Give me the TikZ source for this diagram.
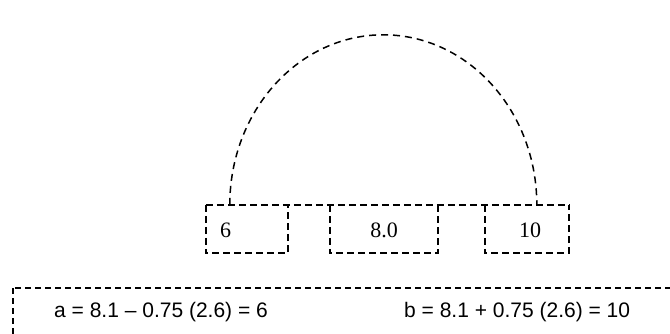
\documentclass[tikz,border=0pt]{standalone}
\usepackage{fontspec}
\setmainfont{Liberation Serif}
\setsansfont{Liberation Sans}
\usetikzlibrary{positioning, calc}

\begin{document}
\begin{tikzpicture}[
  x=1pt, y=-1pt,
  box/.style={rectangle, minimum width=82pt, minimum height=48pt, inner sep=0pt},
  num/.style={font=\fontsize{22}{24}\selectfont, inner sep=0pt},
  eqn/.style={font=\sffamily\fontsize{21}{24}\selectfont, inner sep=0pt},
  edge/.style={line width=1.8pt, dash pattern=on 7pt off 4pt},
  arcline/.style={line width=1.5pt, dash pattern=on 7pt off 5pt},
  frame/.style={line width=1.5pt, dash pattern=on 6pt off 4pt}
]
  \useasboundingbox (0,0) rectangle (670,334);
  \clip (0,0) rectangle (670,334);

  % the three intervals
  \node[box, minimum width=82pt] (b1) at (247,229) {};
  \node[box, minimum width=108pt] (b2) at (384,229) {};
  \node[box, minimum width=84pt] (b3) at (527,229) {};

  \node[num, anchor=base west] (n1) at (220,237) {6};
  \node[num, anchor=base] (n2) at (384,237) {8.0};
  \node[num, anchor=base] (n3) at (530,237) {10};

  \draw[edge] (b1.north west) -- (b3.north east);
  \foreach \b in {b1,b2,b3}{
    \draw[edge] (\b.north west) -- (\b.south west) -- (\b.south east) -- (\b.north east);
  }

  % arc over the range
  \coordinate (lo) at ($(b1.north west)+(24,0)$);
  \coordinate (hi) at ($(b3.north west)+(52,0)$);
  \draw[arcline] (lo) arc[start angle=180, end angle=0, x radius=153.5pt, y radius=170pt];

  % bounds
  \node[eqn, anchor=base west] (ea) at (54,317) {a = 8.1 -- 0.75 (2.6) = 6};
  \node[eqn, anchor=base west] (eb) at (404,317) {b = 8.1 + 0.75 (2.6) = 10};
  \draw[frame] (13,288) rectangle (700,360);
\end{tikzpicture}
\end{document}
